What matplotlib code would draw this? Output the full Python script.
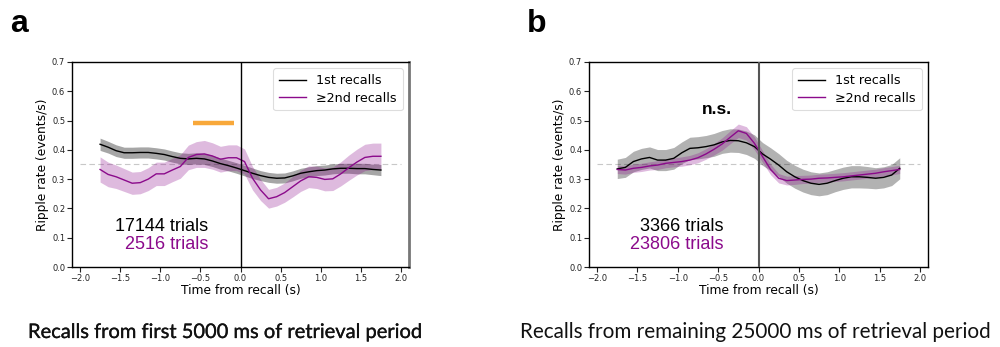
import numpy as np
import matplotlib
matplotlib.use("Agg")
import matplotlib.pyplot as plt
import matplotlib.patheffects as pe

# ---------------- data ----------------
time_s = np.round(np.arange(-1.75, 1.76, 0.1), 2)

a_first = [0.419, 0.409, 0.397, 0.390, 0.390, 0.391, 0.391, 0.388, 0.384, 0.377,
           0.371, 0.369, 0.371, 0.369, 0.362, 0.353, 0.346, 0.338, 0.329, 0.320,
           0.312, 0.306, 0.303, 0.304, 0.311, 0.320, 0.325, 0.329, 0.331, 0.335,
           0.337, 0.337, 0.336, 0.336, 0.333, 0.331]
a_first_err = [0.021, 0.020, 0.020, 0.019, 0.019, 0.019, 0.019, 0.019, 0.019, 0.019,
               0.019, 0.019, 0.019, 0.019, 0.019, 0.019, 0.018, 0.018, 0.018, 0.018,
               0.017, 0.017, 0.017, 0.017, 0.017, 0.017, 0.017, 0.017, 0.017, 0.017,
               0.017, 0.017, 0.018, 0.018, 0.018, 0.019]

a_later = [0.333, 0.316, 0.308, 0.297, 0.286, 0.288, 0.300, 0.318, 0.318, 0.331,
           0.343, 0.374, 0.384, 0.386, 0.379, 0.368, 0.373, 0.373, 0.360, 0.303,
           0.263, 0.233, 0.240, 0.254, 0.274, 0.294, 0.308, 0.306, 0.299, 0.301,
           0.318, 0.339, 0.358, 0.374, 0.378, 0.378]
a_later_err = [0.043, 0.042, 0.040, 0.039, 0.038, 0.038, 0.039, 0.040, 0.040, 0.040,
               0.040, 0.042, 0.044, 0.046, 0.045, 0.044, 0.044, 0.044, 0.043, 0.040,
               0.036, 0.032, 0.032, 0.033, 0.035, 0.036, 0.037, 0.038, 0.039, 0.040,
               0.041, 0.043, 0.044, 0.045, 0.045, 0.045]

b_first = [0.335, 0.340, 0.360, 0.369, 0.374, 0.365, 0.365, 0.371, 0.390, 0.405,
           0.407, 0.411, 0.417, 0.427, 0.432, 0.431, 0.424, 0.411, 0.386, 0.368,
           0.348, 0.325, 0.308, 0.295, 0.286, 0.282, 0.286, 0.295, 0.303, 0.308,
           0.308, 0.306, 0.303, 0.306, 0.314, 0.337]
b_first_err = [0.033, 0.034, 0.035, 0.036, 0.036, 0.036, 0.036, 0.037, 0.037, 0.038,
               0.038, 0.038, 0.039, 0.039, 0.040, 0.040, 0.040, 0.040, 0.039, 0.039,
               0.039, 0.039, 0.039, 0.039, 0.039, 0.039, 0.039, 0.038, 0.038, 0.038,
               0.038, 0.037, 0.036, 0.036, 0.036, 0.036]

b_later = [0.333, 0.331, 0.337, 0.340, 0.345, 0.348, 0.354, 0.357, 0.360, 0.365,
           0.373, 0.386, 0.402, 0.420, 0.443, 0.465, 0.456, 0.422, 0.377, 0.333,
           0.303, 0.295, 0.297, 0.299, 0.300, 0.303, 0.304, 0.306, 0.308, 0.311,
           0.314, 0.317, 0.320, 0.325, 0.329, 0.333]
b_later_err = [0.014, 0.014, 0.014, 0.014, 0.014, 0.015, 0.015, 0.015, 0.016, 0.016,
               0.017, 0.018, 0.019, 0.021, 0.022, 0.023, 0.023, 0.022, 0.020, 0.018,
               0.016, 0.015, 0.015, 0.014, 0.014, 0.014, 0.014, 0.014, 0.014, 0.014,
               0.014, 0.014, 0.014, 0.014, 0.014, 0.014]

legend_labels = ["1st recalls", "\u22652nd recalls"]
trials_a = ["17144 trials", "2516 trials"]
trials_b = ["3366 trials", "23806 trials"]
sig_window_a = [-0.586, -0.087]
sig_level_a = 0.493
baseline_rate = 0.35
xticks = [-2.0, -1.5, -1.0, -0.5, 0.0, 0.5, 1.0, 1.5, 2.0]
yticks = [0.0, 0.1, 0.2, 0.3, 0.4, 0.5, 0.6, 0.7]
captions = ["Recalls from first 5000 ms of retrieval period",
            "Recalls from remaining 25000 ms of retrieval period"]

PURPLE = "#8b0a8b"
ORANGE = "#f8a83a"

fig = plt.figure(figsize=(10.0, 3.47), dpi=100)
ax_a = fig.add_axes([0.072, 0.2305, 0.337, 0.591])
ax_b = fig.add_axes([0.589, 0.2305, 0.339, 0.591])


def draw(ax, first, first_err, later, later_err, trials, trials_x, black_alpha,
         vline_color, vline_lw):
    t = time_s
    f = np.array(first); fe = np.array(first_err)
    l = np.array(later); le = np.array(later_err)
    ax.axhline(baseline_rate, xmin=(-2.0 + 2.1) / 4.2, xmax=(2.0 + 2.1) / 4.2,
               color="#c8c8c8", lw=0.8, ls=(0, (5, 3)), zorder=1)
    ax.fill_between(t, f - fe, f + fe, color="k", alpha=black_alpha, lw=0, zorder=2)
    ax.fill_between(t, l - le, l + le, color=PURPLE, alpha=0.28, lw=0, zorder=2)
    ax.plot(t, f, color="k", lw=1.0, label=legend_labels[0], zorder=3)
    ax.plot(t, l, color=PURPLE, lw=1.0, label=legend_labels[1], zorder=3)
    ax.axvline(0, color=vline_color, lw=vline_lw, zorder=4)
    ax.set_xlim(-2.1, 2.1)
    ax.set_ylim(0, 0.7)
    ax.set_xticks(xticks)
    ax.set_yticks(yticks)
    ax.tick_params(labelsize=6, length=3.4, width=0.8, colors="#222222", pad=1.5)
    ax.set_xlabel("Time from recall (s)", fontsize=8.8, labelpad=0.5)
    ax.set_ylabel("Ripple rate (events/s)", fontsize=8.8, labelpad=2)
    for s in ax.spines.values():
        s.set_linewidth(1.0)
    leg = ax.legend(loc="upper right", fontsize=9.2, frameon=True,
                    borderpad=0.45, labelspacing=0.35, handlelength=2.1,
                    borderaxespad=0.5)
    leg.get_frame().set_edgecolor("#d5d5d5")
    leg.get_frame().set_linewidth(0.8)
    ax.text(trials_x, 0.137, trials[0], color="k", fontsize=13, ha="right",
            va="center", family="Liberation Sans")
    ax.text(trials_x, 0.078, trials[1], color=PURPLE, fontsize=13, ha="right",
            va="center", family="Liberation Sans")


draw(ax_a, a_first, a_first_err, a_later, a_later_err, trials_a, -0.40, 0.35,
     "k", 1.0)
draw(ax_b, b_first, b_first_err, b_later, b_later_err, trials_b, -0.43, 0.30,
     "#555555", 1.5)

ax_a.spines["right"].set_color("#777777")
ax_a.spines["right"].set_linewidth(2.0)

ax_a.plot(sig_window_a, [sig_level_a, sig_level_a], color=ORANGE, lw=3.2,
          solid_capstyle="butt", zorder=5)
ax_b.text(-0.51, 0.538, "n.s.", fontsize=12.5, fontweight="bold", ha="center",
          va="center", family="Liberation Sans")

fig.text(0.010, 1 - 32 / 347, "a", fontsize=23, fontweight="bold",
         family="Liberation Sans", va="baseline", ha="left")
fig.text(0.527, 1 - 32 / 347, "b", fontsize=23, fontweight="bold",
         family="Liberation Sans", va="baseline", ha="left")

cap_family = ["Lato", "Open Sans", "DejaVu Sans"]
cap_specs = [(captions[0], 28, 394, 0.2), (captions[1], 520, 468, 0.0)]
fig.canvas.draw()
renderer = fig.canvas.get_renderer()
for text, x0, target_w, stroke in cap_specs:
    t = fig.text(x0 / 1000, 1 - 338 / 347, text, fontsize=13, family=cap_family,
                 va="baseline", ha="left", color="#111111")
    w = t.get_window_extent(renderer).width
    t.set_fontsize(13 * target_w / w)
    if stroke > 0:
        t.set_path_effects([pe.withStroke(linewidth=stroke, foreground="#111111")])

fig.savefig("out.png", dpi=100)
